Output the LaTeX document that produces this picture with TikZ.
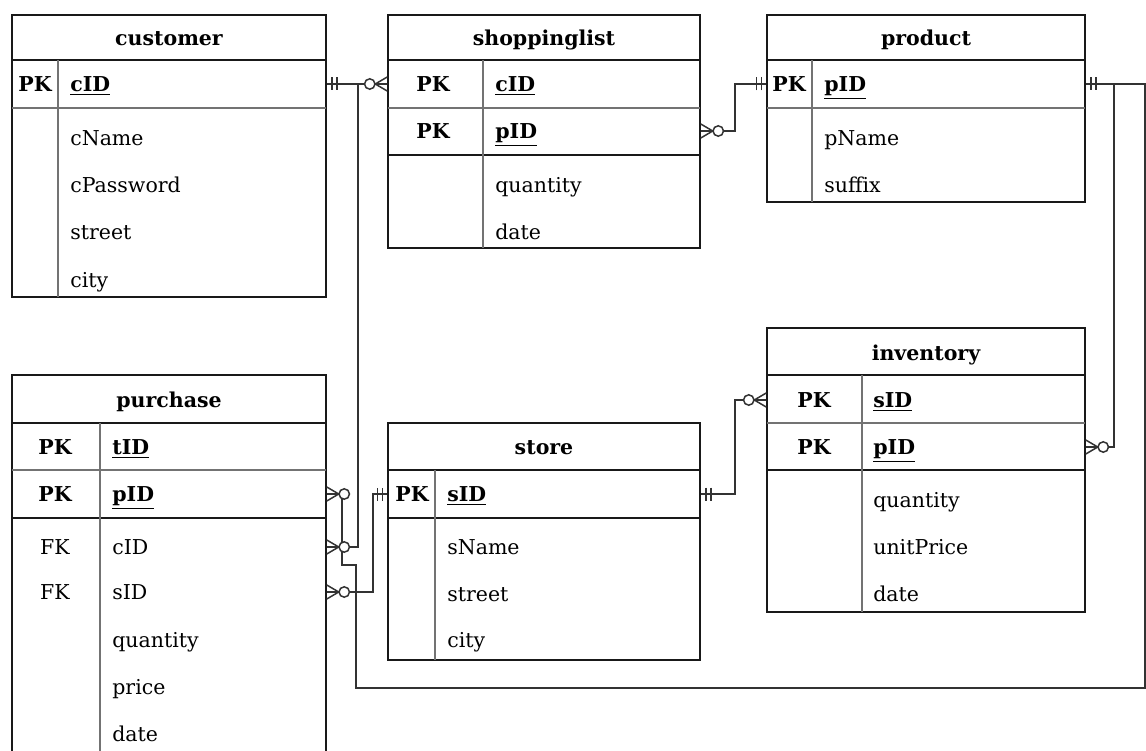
\documentclass[tikz,border=0pt]{standalone}
\usepackage{fontspec}
\setmainfont{DejaVu Serif}
\usetikzlibrary{fit}
\newcommand{\erfs}{\fontsize{12.3}{15}\selectfont}
\tikzset{
  tbl/.style={draw=black!90, line width=0.9pt, inner sep=0pt},
  hrule/.style={draw=black!90, line width=0.9pt},
  rrule/.style={draw=black!55, line width=0.8pt},
  txt/.style={inner sep=0pt, text height=9pt, text depth=0pt, font=\erfs},
  ttl/.style={txt, font=\erfs\bfseries, anchor=center},
  pk/.style={txt, font=\erfs\bfseries, anchor=center},
  fk/.style={txt, anchor=center},
  keyf/.style={txt, font=\erfs\bfseries, anchor=west},
  attr/.style={txt, anchor=west},
  link/.style={draw=black!80, line width=0.9pt},
  one/.pic={\draw[link] (5,-6.5) -- (5,6.5) (10,-6.5) -- (10,6.5);},
  zmany/.pic={
    \draw[link] (0,-7) -- (12,0) -- (0,7) (0,0) -- (12,0);
    \draw[link, fill=white] (17.5,0) circle[radius=5.2];
  }
}
\begin{document}
\begin{tikzpicture}[x=0.6pt, y=-0.6pt]
\useasboundingbox (0,0) rectangle (1146,751);

% customer
\node[tbl, fit={(12,15) (326,297)}] (customer) {};
\draw[hrule] (12,60) -- (326,60);
\draw[rrule] (12,108) -- (326,108);
\draw[rrule] (58,60) -- (58,297);
\node[ttl] (customer-t) at (169,38) {customer};
\node[pk] (customer-pk) at (35,84) {PK};
\node[keyf] (c-cid) at (70,84) {\underline{cID}};
\node[attr] (c-cname) at (70,138) {cName};
\node[attr] (c-cpw) at (70,185) {cPassword};
\node[attr] (c-street) at (70,232) {street};
\node[attr] (c-city) at (70,280) {city};

% shoppinglist
\node[tbl, fit={(388,15) (700,248)}] (shoppinglist) {};
\draw[hrule] (388,60) -- (700,60);
\draw[rrule] (388,108) -- (700,108);
\draw[hrule] (388,155) -- (700,155);
\draw[rrule] (483,60) -- (483,248);
\node[ttl] (sl-t) at (544,38) {shoppinglist};
\node[pk] (sl-pk1) at (433,84) {PK};
\node[pk] (sl-pk2) at (433,131) {PK};
\node[keyf] (sl-cid) at (495,84) {\underline{cID}};
\node[keyf] (sl-pid) at (495,131) {\underline{pID}};
\node[attr] (sl-qty) at (495,185) {quantity};
\node[attr] (sl-date) at (495,232) {date};

% product
\node[tbl, fit={(767,15) (1085,202)}] (product) {};
\draw[hrule] (767,60) -- (1085,60);
\draw[rrule] (767,108) -- (1085,108);
\draw[rrule] (812,60) -- (812,202);
\node[ttl] (pr-t) at (926,38) {product};
\node[pk] (pr-pk) at (789,84) {PK};
\node[keyf] (pr-pid) at (824,84) {\underline{pID}};
\node[attr] (pr-pname) at (824,138) {pName};
\node[attr] (pr-suffix) at (824,185) {suffix};

% inventory
\node[tbl, fit={(767,328) (1085,612)}] (inventory) {};
\draw[hrule] (767,375) -- (1085,375);
\draw[rrule] (767,423) -- (1085,423);
\draw[hrule] (767,470) -- (1085,470);
\draw[rrule] (862,375) -- (862,612);
\node[ttl] (in-t) at (926,353) {inventory};
\node[pk] (in-pk1) at (814,400) {PK};
\node[pk] (in-pk2) at (814,447) {PK};
\node[keyf] (in-sid) at (873,400) {\underline{sID}};
\node[keyf] (in-pid) at (873,447) {\underline{pID}};
\node[attr] (in-qty) at (873,500) {quantity};
\node[attr] (in-price) at (873,547) {unitPrice};
\node[attr] (in-date) at (873,594) {date};

% purchase
\node[tbl, fit={(12,375) (326,762)}] (purchase) {};
\draw[hrule] (12,423) -- (326,423);
\draw[rrule] (12,470) -- (326,470);
\draw[hrule] (12,518) -- (326,518);
\draw[rrule] (100,423) -- (100,762);
\node[ttl] (pu-t) at (169,400) {purchase};
\node[pk] (pu-pk1) at (55,447) {PK};
\node[pk] (pu-pk2) at (55,494) {PK};
\node[fk] (pu-fk1) at (55,547) {FK};
\node[fk] (pu-fk2) at (55,592) {FK};
\node[keyf] (pu-tid) at (112,447) {\underline{tID}};
\node[keyf] (pu-pid) at (112,494) {\underline{pID}};
\node[attr] (pu-cid) at (112,547) {cID};
\node[attr] (pu-sid) at (112,592) {sID};
\node[attr] (pu-qty) at (112,640) {quantity};
\node[attr] (pu-price) at (112,687) {price};
\node[attr] (pu-date) at (112,734) {date};

% store
\node[tbl, fit={(388,423) (700,660)}] (store) {};
\draw[hrule] (388,470) -- (700,470);
\draw[hrule] (388,518) -- (700,518);
\draw[rrule] (435,470) -- (435,660);
\node[ttl] (st-t) at (544,447) {store};
\node[pk] (st-pk) at (412,494) {PK};
\node[keyf] (st-sid) at (447,494) {\underline{sID}};
\node[attr] (st-sname) at (447,547) {sName};
\node[attr] (st-street) at (447,594) {street};
\node[attr] (st-city) at (447,640) {city};

% relationships
\draw[link] (customer.east |- c-cid) -- (shoppinglist.west |- sl-cid);
\draw[link] (358,84) |- (purchase.east |- pu-cid);
\draw[link] (purchase.east |- pu-pid) -- (342,494) -- (342,565) -- (356,565)
  -- (356,688) -- (1145,688) -- (1145,84) -- (product.east |- pr-pid);
\draw[link] (1114,84) |- (inventory.east |- in-pid);
\draw[link] (shoppinglist.east |- sl-pid) -- (735,131) |- (product.west |- pr-pid);
\draw[link] (store.east |- st-sid) -- (735,494) |- (inventory.west |- in-sid);
\draw[link] (store.west |- st-sid) -- (373,494) |- (purchase.east |- pu-sid);

% cardinality marks
\pic at (customer.east |- c-cid) {one};
\pic[rotate=180] at (shoppinglist.west |- sl-cid) {zmany};
\pic at (purchase.east |- pu-cid) {zmany};
\pic at (purchase.east |- pu-pid) {zmany};
\pic at (purchase.east |- pu-sid) {zmany};
\pic at (product.east |- pr-pid) {one};
\pic[rotate=180] at (product.west |- pr-pid) {one};
\pic at (shoppinglist.east |- sl-pid) {zmany};
\pic at (inventory.east |- in-pid) {zmany};
\pic[rotate=180] at (inventory.west |- in-sid) {zmany};
\pic at (store.east |- st-sid) {one};
\pic[rotate=180] at (store.west |- st-sid) {one};
\end{tikzpicture}
\end{document}
